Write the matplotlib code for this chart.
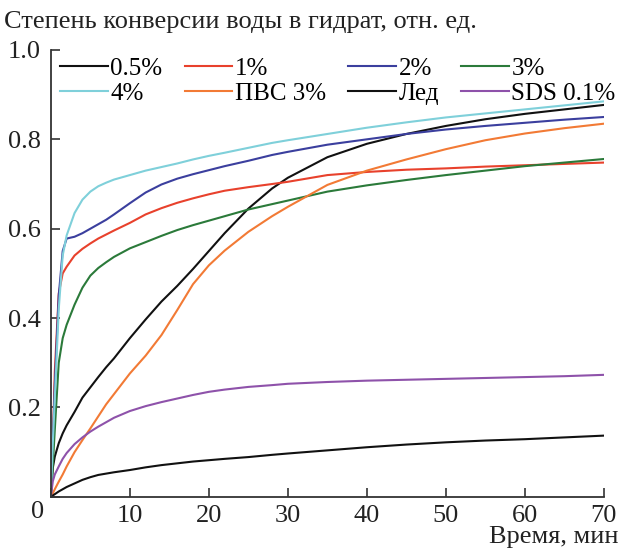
import matplotlib
matplotlib.use("Agg")
import matplotlib.pyplot as plt

plt.rcParams['font.family'] = ['Liberation Serif', 'DejaVu Serif']

# time grid, min
t = [0, 0.25, 0.5, 1, 1.5, 2, 3, 4, 5, 6, 7, 8, 10, 12, 14, 16, 18, 20, 22, 25,
     28, 30, 35, 40, 45, 50, 55, 60, 65, 70]

c05 = [0, 0.065, 0.09, 0.12, 0.142, 0.16, 0.19, 0.222, 0.245, 0.268, 0.29, 0.31, 0.355,
       0.397, 0.437, 0.472, 0.51, 0.55, 0.59, 0.645, 0.69, 0.714, 0.76, 0.79, 0.812,
       0.83, 0.845, 0.857, 0.867, 0.877]
c1 = [0, 0.12, 0.28, 0.455, 0.50, 0.515, 0.54, 0.555, 0.567, 0.578, 0.587, 0.596, 0.613,
      0.632, 0.646, 0.658, 0.668, 0.677, 0.685, 0.693, 0.70, 0.705, 0.72, 0.727, 0.732,
      0.735, 0.739, 0.742, 0.745, 0.748]
c2 = [0, 0.12, 0.25, 0.45, 0.55, 0.578, 0.582, 0.59, 0.60, 0.61, 0.62, 0.632, 0.657,
      0.681, 0.699, 0.712, 0.722, 0.731, 0.74, 0.752, 0.765, 0.772, 0.788, 0.80, 0.812,
      0.822, 0.83, 0.837, 0.844, 0.85]
c3 = [0, 0.07, 0.15, 0.30, 0.355, 0.385, 0.43, 0.468, 0.495, 0.512, 0.525, 0.537, 0.556,
      0.57, 0.584, 0.597, 0.608, 0.618, 0.628, 0.643, 0.655, 0.663, 0.683, 0.697, 0.709,
      0.72, 0.73, 0.74, 0.748, 0.756]
c4 = [0, 0.12, 0.22, 0.42, 0.54, 0.585, 0.635, 0.665, 0.683, 0.695, 0.703, 0.71, 0.72,
      0.73, 0.738, 0.746, 0.755, 0.763, 0.77, 0.781, 0.792, 0.798, 0.812, 0.826, 0.838,
      0.849, 0.858, 0.867, 0.876, 0.885]
pvs = [0, 0.008, 0.017, 0.034, 0.05, 0.068, 0.10, 0.127, 0.153, 0.18, 0.207, 0.23, 0.276,
       0.316, 0.362, 0.418, 0.476, 0.518, 0.551, 0.593, 0.628, 0.649, 0.698, 0.73, 0.755,
       0.778, 0.798, 0.813, 0.825, 0.835]
ice = [0, 0.003, 0.006, 0.012, 0.017, 0.022, 0.03, 0.038, 0.044, 0.049, 0.052, 0.055, 0.06,
       0.066, 0.071, 0.075, 0.079, 0.082, 0.085, 0.089, 0.094, 0.097, 0.104, 0.111, 0.117,
       0.122, 0.126, 0.129, 0.133, 0.137]
sds = [0, 0.035, 0.05, 0.068, 0.085, 0.098, 0.118, 0.133, 0.146, 0.157, 0.167, 0.177, 0.192,
       0.203, 0.212, 0.22, 0.228, 0.235, 0.24, 0.246, 0.25, 0.253, 0.257, 0.26, 0.262,
       0.264, 0.266, 0.268, 0.27, 0.273]

series = [
    ("0.5%", c05, "#111111"),
    ("1%", c1, "#e8412c"),
    ("2%", c2, "#3b3f9e"),
    ("3%", c3, "#2b7a3a"),
    ("4%", c4, "#7fd0da"),
    ("ПВС 3%", pvs, "#f27a35"),
    ("Лед", ice, "#111111"),
    ("SDS 0.1%", sds, "#8e52aa"),
]

fig = plt.figure(figsize=(6.2, 5.49), dpi=100)
ax = fig.add_axes([0.082, 0.095, 0.892, 0.814])

lines = []
for name, vals, col in series:
    ln, = ax.plot(t, vals, color=col, lw=1.5, label=name)
    lines.append(ln)

ax.set_xlim(0, 70)
ax.set_ylim(0, 1.0)
ax.set_xticks(range(0, 71, 10))
ax.set_xticklabels([''] + [str(v) for v in range(10, 71, 10)])
ax.set_yticks([0, 0.2, 0.4, 0.6, 0.8, 1.0])
ax.set_yticklabels(['', '0.2', '0.4', '0.6', '0.8', '1.0'])
ax.tick_params(direction='in', length=6.5, width=1.2, labelsize=19, color='#333333',
               labelcolor='#222222')
ax.tick_params(axis='x', pad=6)
ax.tick_params(axis='y', pad=7)
for s in ['top', 'right']:
    ax.spines[s].set_visible(False)
for s in ['left', 'bottom']:
    ax.spines[s].set_color('#333333')
    ax.spines[s].set_linewidth(1.3)

fig.text(0.06, 0.068, '0', fontsize=19, color='#222222', ha='center', va='center')
fig.text(0.006, 0.96, 'Степень конверсии воды в гидрат, отн. ед.', fontsize=19,
         color='#222222', ha='left', va='center')
fig.text(0.997, 0.041, 'Время, мин', fontsize=19, color='#222222', ha='right', va='top')

# legend filled row by row (matplotlib fills columns first)
order = [0, 4, 1, 5, 2, 6, 3, 7]
ax.legend([lines[i] for i in order], [series[i][0] for i in order],
          ncol=4, loc='upper left', bbox_to_anchor=(0.097, 0.895),
          bbox_transform=fig.transFigure, frameon=False, fontsize=18,
          handlelength=1.9, handletextpad=0.1, columnspacing=0.9,
          labelspacing=0.08, borderpad=0, borderaxespad=0)

fig.savefig('out.png', dpi=100)
